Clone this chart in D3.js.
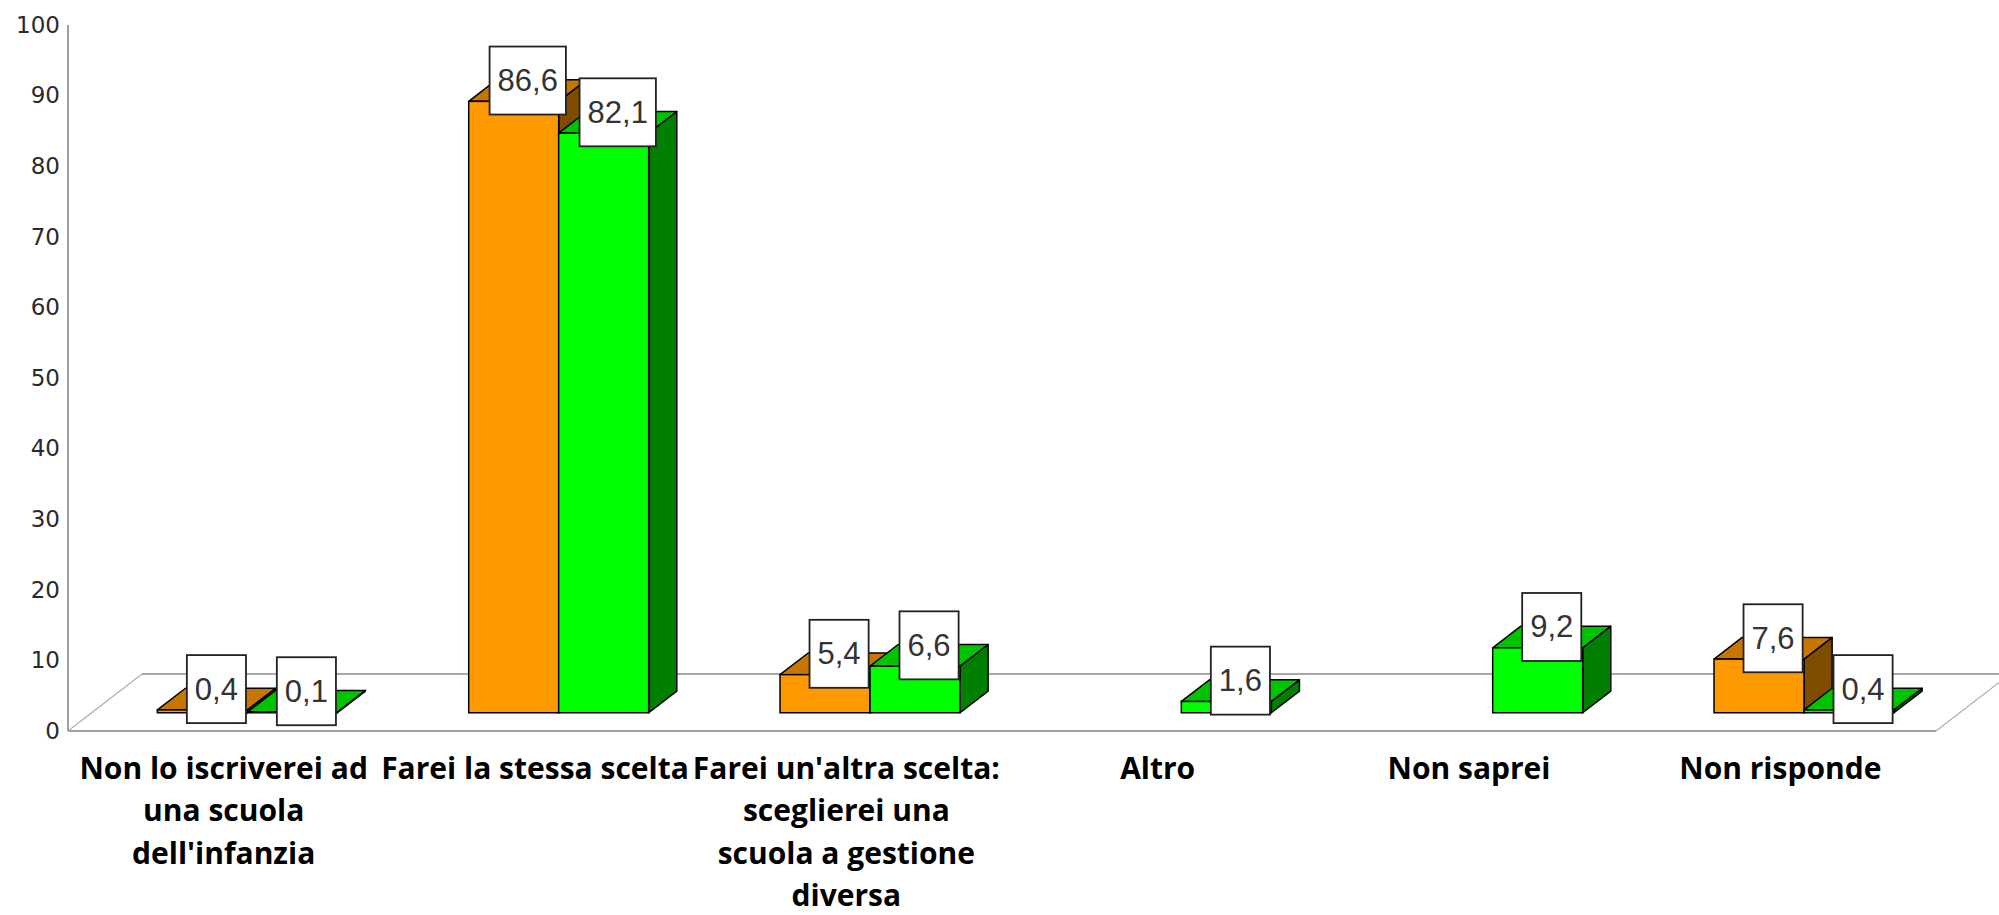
<!DOCTYPE html>
<html>
<head>
<meta charset="utf-8">
<script src="https://cdn.jsdelivr.net/npm/d3@7"></script>
<style>
  html, body { margin: 0; padding: 0; background: #fff; }
  svg { display: block; }
</style>
</head>
<body>
<svg id="chart" width="1999" height="915"></svg>
<script>
// ---- data ----
const categories = [
  "Non lo iscriverei ad\nuna scuola\ndell'infanzia",
  "Farei la stessa scelta",
  "Farei un'altra scelta:\nsceglierei una\nscuola a gestione\ndiversa",
  "Altro",
  "Non saprei",
  "Non risponde"
];
const seriesNames = ["A", "B"];
const seriesA = [0.4, 86.6, 5.4, null, null, 7.6];
const seriesB = [0.1, 82.1, 6.6, 1.6, 9.2, 0.4];
const yTicks = [0, 10, 20, 30, 40, 50, 60, 70, 80, 90, 100];

// ---- styling ----
const colors = {
  A: { front: "#FF9900", top: "#C77700", side: "#7F4D00" },
  B: { front: "#00FF00", top: "#00C400", side: "#007F00" }
};

const svg = d3.select("#chart");
const pLeft = 68, pRight = 1936, pBottom = 731, pTop = 25;
const depth = [74, -57];          // floor depth vector
const f0 = 0.32, fd = 0.38;       // bar front position and bar depth (fractions of floor depth)
const off = [depth[0] * f0, depth[1] * f0];
const bd = [depth[0] * fd, depth[1] * fd];

const x = d3.scaleBand().domain(categories).range([pLeft, pRight]).padding(0);
const inner = d3.scaleBand().domain(seriesNames).range([0, x.bandwidth()])
  .paddingInner(0).paddingOuter(0.73);
const y = d3.scaleLinear().domain([0, 100]).range([pBottom, pTop]);

// ---- floor ----
const floorG = svg.append("g");
floorG.append("line")
  .attr("x1", pLeft + depth[0]).attr("y1", pBottom + depth[1])
  .attr("x2", pRight + depth[0]).attr("y2", pBottom + depth[1])
  .attr("stroke", "#a8a8a8").attr("stroke-width", 2);
floorG.append("line")
  .attr("x1", pLeft).attr("y1", pBottom)
  .attr("x2", pLeft + depth[0]).attr("y2", pBottom + depth[1])
  .attr("stroke", "#b0b0b0").attr("stroke-width", 1.3);
floorG.append("line")
  .attr("x1", pRight).attr("y1", pBottom)
  .attr("x2", pRight + depth[0]).attr("y2", pBottom + depth[1])
  .attr("stroke", "#b0b0b0").attr("stroke-width", 1.3);
floorG.append("line")
  .attr("x1", pLeft).attr("y1", pBottom)
  .attr("x2", pRight).attr("y2", pBottom)
  .attr("stroke", "#a0a0a0").attr("stroke-width", 2.2);

// ---- y axis ----
const yAxis = d3.axisLeft(y).tickValues(yTicks).tickSize(0).tickPadding(8)
  .tickFormat(d3.format("d"));
const yG = svg.append("g").attr("transform", `translate(${pLeft},0)`).call(yAxis);
yG.select(".domain").attr("stroke", "#a0a0a0").attr("stroke-width", 2)
  .attr("d", `M0,${pTop}V${pBottom}`);
yG.selectAll(".tick text")
  .attr("font-family", "DejaVu Sans").attr("font-size", 23).attr("fill", "#2a2a2a");

// ---- bars ----
const fmt = v => d3.format(".1f")(v).replace(".", ",");
const bars = [];
categories.forEach((c, i) => {
  [["A", seriesA[i]], ["B", seriesB[i]]].forEach(([s, v]) => {
    if (v === null || v === undefined) return;
    const x0 = x(c) + inner(s) + off[0];
    const x1 = x0 + inner.bandwidth();
    const yb = y(0) + off[1];
    const yt = y(v) + off[1];
    bars.push({ c, s, v, x0, x1, yb, yt });
  });
});

const barG = svg.append("g");
const pts = arr => arr.map(p => p.join(",")).join(" ");
bars.forEach(b => {
  const g = barG.append("g");
  const col = colors[b.s];
  g.append("polygon")
    .attr("points", pts([[b.x1, b.yt], [b.x1 + bd[0], b.yt + bd[1]], [b.x1 + bd[0], b.yb + bd[1]], [b.x1, b.yb]]))
    .attr("fill", col.side).attr("stroke", "#000").attr("stroke-width", 1.5).attr("stroke-linejoin", "round");
  g.append("polygon")
    .attr("points", pts([[b.x0, b.yt], [b.x0 + bd[0], b.yt + bd[1]], [b.x1 + bd[0], b.yt + bd[1]], [b.x1, b.yt]]))
    .attr("fill", col.top).attr("stroke", "#000").attr("stroke-width", 1.5).attr("stroke-linejoin", "round");
  g.append("rect")
    .attr("x", b.x0).attr("y", b.yt)
    .attr("width", b.x1 - b.x0).attr("height", Math.max(0.5, b.yb - b.yt))
    .attr("fill", col.front).attr("stroke", "#000").attr("stroke-width", 1.5);
});

// ---- value labels ----
const labG = svg.append("g");
bars.forEach(b => {
  const cx = (b.x0 + b.x1) / 2 + bd[0] / 2;
  const cy = b.yt + bd[1] / 2 - 10;
  const g = labG.append("g");
  const rect = g.append("rect").attr("fill", "#fff").attr("stroke", "#222").attr("stroke-width", 1.8);
  const t = g.append("text")
    .attr("x", cx).attr("y", cy)
    .attr("text-anchor", "middle").attr("dominant-baseline", "central")
    .attr("font-family", "Liberation Sans").attr("font-size", 31).attr("fill", "#333")
    .text(fmt(b.v));
  const w = t.node().getComputedTextLength() + 16;
  const h = 68;
  rect.attr("x", cx - w / 2).attr("y", cy - h / 2).attr("width", w).attr("height", h);
});

// ---- category labels ----
const catG = svg.append("g");
categories.forEach(c => {
  const lines = c.split("\n");
  const t = catG.append("text")
    .attr("text-anchor", "middle")
    .attr("font-family", "Open Sans").attr("font-weight", "bold").attr("font-size", 30)
    .attr("fill", "#000");
  lines.forEach((ln, k) => {
    t.append("tspan").attr("x", x(c) + x.bandwidth() / 2)
      .attr("y", 767 + k * 42.5).attr("dominant-baseline", "central").text(ln);
  });
});
</script>
</body>
</html>
